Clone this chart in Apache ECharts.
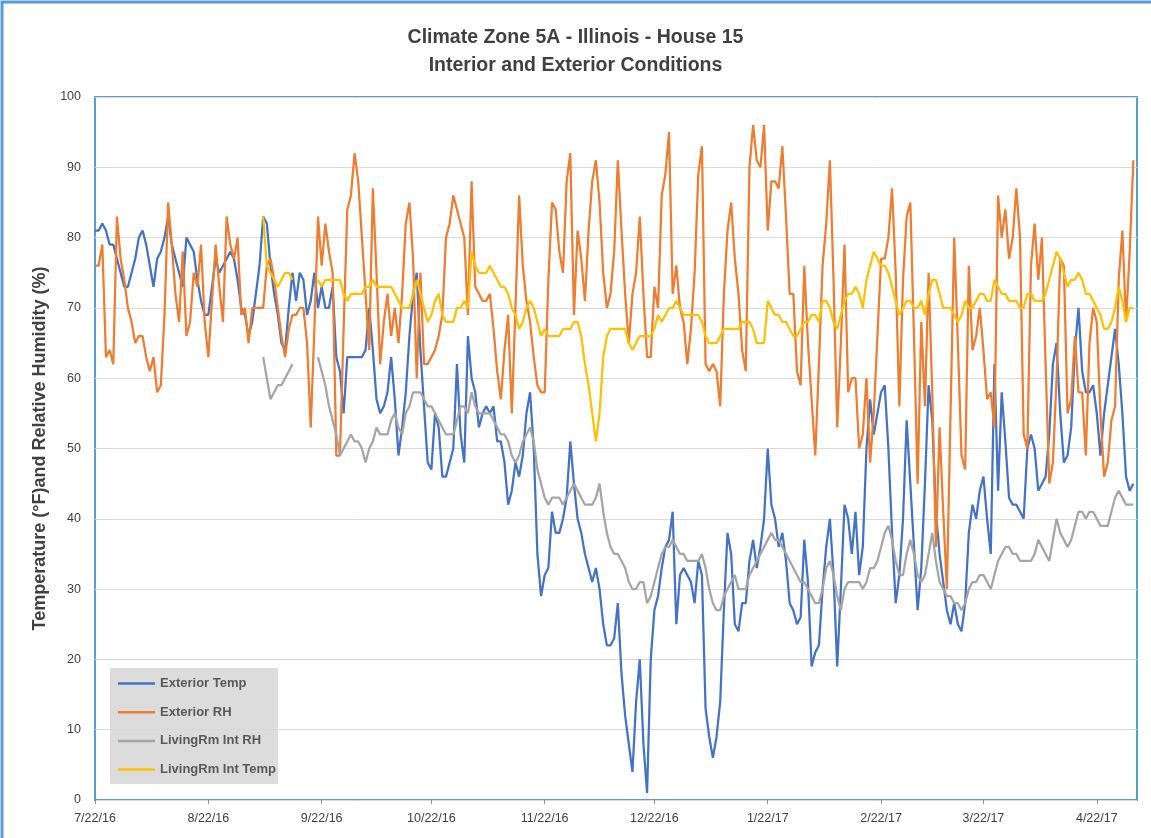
<!DOCTYPE html>
<html>
<head>
<meta charset="utf-8">
<script src="https://cdn.jsdelivr.net/npm/echarts@6/dist/echarts.min.js"></script>
<style>
  html, body { margin: 0; padding: 0; background: #ffffff; }
  #chart { width: 1151px; height: 838px; }
</style>
</head>
<body>
<div id="chart"></div>
<script>
// Daily readings starting 7/22/16 (one value per day)
const firstDay = [2016, 6, 22];
const dayCount = 286;

const exteriorTemp = [
  81,81,82,81,79,79,77,75,73,73,
  75,77,80,81,79,76,73,77,78,80,
  83,79,77,75,73,80,79,78,74,71,
  69,69,73,77,75,76,77,78,77,74,
  70,69,66,68,72,76,83,82,76,72,
  69,65,64,70,75,71,75,74,69,71,
  75,70,73,70,70,73,63,61,55,63,
  63,63,63,63,64,70,64,57,55,56,
  58,63,57,49,53,58,66,72,75,64,
  56,48,47,55,53,46,46,48,50,62,
  52,48,66,60,58,53,55,56,55,56,
  51,51,48,42,44,48,46,49,55,58,
  50,35,29,32,33,41,38,38,40,43,
  51,45,40,38,35,33,31,33,30,25,
  22,22,23,28,18,12,8,4,14,20,
  8,1,20,27,29,33,36,37,41,25,
  32,33,32,31,28,34,32,13,9,6,
  9,14,27,38,35,25,24,28,28,34,
  37,33,36,40,50,42,40,36,38,34,
  28,27,25,26,37,31,19,21,22,30,
  36,40,32,19,30,42,40,35,41,32,
  36,50,57,52,55,58,59,50,38,28,
  32,40,54,45,36,27,33,45,59,54,
  41,35,31,27,25,28,25,24,28,38,
  42,40,44,46,40,35,62,44,58,51,
  43,42,42,41,40,50,52,50,44,45,
  46,52,62,65,55,48,49,53,64,70,
  61,58,58,59,55,49,55,59,63,67,
  62,55,46,44,45
];

const exteriorRH = [
  76,76,79,63,64,62,83,77,74,70,
  68,65,66,66,63,61,63,58,59,69,
  85,79,72,68,78,66,68,75,73,79,
  68,63,71,79,73,68,83,79,77,80,
  69,70,65,70,70,70,70,76,77,74,
  70,66,63,67,69,69,70,70,65,53,
  67,83,76,82,78,75,49,49,67,84,
  86,92,88,80,72,64,87,75,62,68,
  72,66,70,65,72,82,85,77,60,75,
  62,62,63,64,66,69,80,82,86,84,
  82,80,69,88,73,72,71,71,72,67,
  61,57,64,69,55,70,86,76,71,68,
  63,59,58,58,74,85,84,78,75,88,
  92,69,81,77,71,81,88,91,85,75,
  70,72,78,91,81,72,65,72,75,83,
  72,63,63,73,70,86,89,95,72,76,
  70,68,62,67,75,89,93,62,61,62,
  61,56,72,81,85,77,72,64,61,90,
  96,91,90,96,81,88,88,87,93,83,
  72,72,61,59,76,65,57,49,62,76,
  82,91,74,53,65,79,58,60,60,50,
  52,60,48,55,66,77,77,80,87,75,
  56,74,83,85,66,45,68,56,75,58,
  36,53,41,30,55,80,65,49,47,76,
  64,66,70,64,57,58,53,86,80,84,
  77,80,87,80,52,50,76,82,74,80,
  62,45,48,60,77,76,55,57,66,58,
  58,49,65,70,68,55,46,48,54,56,
  74,81,68,78,91
];

// Interior logger readings begin on day 46 (9/6/16); null = no reading
const interiorStartDay = 46;

const livingRmRH = [
  63,60,57,58,59,59,60,61,62,
  null,null,null,null,null,null,
  63,61,59,56,54,52,49,50,51,
  52,51,51,50,48,50,51,53,52,52,
  52,54,55,53,52,55,56,58,58,58,
  57,56,56,55,54,53,52,52,52,54,
  56,56,55,58,56,55,55,55,55,54,
  53,52,52,51,49,48,49,51,52,53,
  51,47,45,43,42,43,43,43,42,43,
  44,45,44,43,42,42,42,43,45,41,
  38,36,35,35,34,33,31,30,30,31,
  31,28,29,31,33,35,36,36,37,36,
  35,35,34,34,34,34,35,33,30,28,
  27,27,29,30,31,32,30,30,30,32,
  33,34,35,36,37,38,37,37,36,35,
  34,33,32,31,31,30,29,28,28,30,
  33,34,32,29,27,30,31,31,31,31,
  30,31,33,33,34,36,38,39,37,34,
  32,32,35,37,35,32,31,32,35,38,
  34,31,30,29,29,28,28,27,28,30,
  31,31,32,32,31,30,32,34,35,36,
  36,35,35,34,34,34,34,35,37,36,
  35,34,37,40,38,37,36,37,39,41,
  41,40,41,41,40,39,39,39,41,43,
  44,43,42,42,42
];

const livingRmTemp = [
  83,76,75,74,73,74,75,75,74,
  null,null,null,null,null,null,
  74,73,74,74,74,74,74,72,71,
  72,72,72,72,73,73,74,73,73,73,
  73,73,72,71,70,70,70,72,74,72,
  70,68,69,71,72,69,68,68,68,70,
  70,71,70,78,76,75,75,75,76,75,
  74,73,73,72,70,69,67,68,70,71,
  70,68,66,67,66,66,66,66,67,67,
  67,68,68,66,62,59,55,51,55,63,
  66,67,67,67,67,67,65,64,65,66,
  66,66,66,67,69,68,69,70,70,71,
  70,69,69,69,69,69,68,66,65,65,
  65,66,67,67,67,67,67,68,68,68,
  67,65,65,65,71,70,69,69,68,68,
  67,66,66,67,68,68,69,69,68,71,
  71,70,68,67,69,71,72,72,73,72,
  70,74,76,78,77,76,76,75,73,71,
  69,70,71,71,70,70,71,69,72,74,
  74,72,70,70,70,69,68,69,71,70,
  70,71,72,72,71,71,74,73,72,72,
  71,71,71,70,70,72,72,71,71,71,
  72,74,76,78,77,75,73,74,74,75,
  74,72,72,71,70,69,67,67,68,70,
  73,71,68,70,70
];

const yTicks = { min: 0, max: 100, step: 10 };

// Date categories, labelled M/D/YY
const dates = [];
for (let i = 0; i < dayCount; i++) {
  const d = new Date(firstDay[0], firstDay[1], firstDay[2] + i);
  dates.push((d.getMonth() + 1) + '/' + d.getDate() + '/' + String(d.getFullYear()).slice(2));
}
const isMonthTick = (idx, val) => val.split('/')[1] === '22';

function fromDay(start, arr) {
  const out = [];
  for (let i = 0; i < start; i++) out.push(null);
  return out.concat(arr);
}

const chart = echarts.init(document.getElementById('chart'), null, { renderer: 'canvas' });

const textFont = '"Liberation Sans", Arial, sans-serif';

function lineSeries(name, color, data) {
  return {
    name: name,
    type: 'line',
    data: data,
    symbol: 'none',
    connectNulls: false,
    lineStyle: { color: color, width: 2.25 },
    itemStyle: { color: color },
    emphasis: { disabled: true },
    z: 3
  };
}

chart.setOption({
  backgroundColor: '#ffffff',
  animation: false,
  textStyle: { fontFamily: textFont },
  title: [
    {
      text: 'Climate Zone 5A - Illinois - House 15',
      left: 'center', top: 23,
      textStyle: { fontSize: 19.5, fontWeight: 'bold', color: '#404040', fontFamily: textFont }
    },
    {
      text: 'Interior and Exterior Conditions',
      left: 'center', top: 51,
      textStyle: { fontSize: 19.5, fontWeight: 'bold', color: '#404040', fontFamily: textFont }
    }
  ],
  graphic: [
    {
      type: 'rect',
      shape: { x: 2, y: 2, width: 1170, height: 860 },
      style: { fill: 'none', stroke: '#5B9BD5', lineWidth: 3 },
      silent: true, z: 100
    }
  ],
  legend: {
    orient: 'vertical',
    left: 110, top: 668,
    padding: [9, 2, 8, 8],
    icon: 'rect',
    itemWidth: 37, itemHeight: 2.5, itemGap: 15.7,
    backgroundColor: 'rgba(214,214,214,0.85)',
    textStyle: { fontSize: 13, fontWeight: 'bold', color: '#595959', fontFamily: textFont },
    data: ['Exterior Temp', 'Exterior RH', 'LivingRm Int RH', 'LivingRm Int Temp']
  },
  grid: {
    left: 95, right: 14, top: 97, bottom: 38,
    show: true, borderColor: '#5B9BD5', borderWidth: 2,
    backgroundColor: 'transparent',
    containLabel: false
  },
  xAxis: {
    type: 'category',
    data: dates,
    boundaryGap: false,
    axisLine: { show: false },
    axisTick: { show: true, interval: isMonthTick, length: 4, lineStyle: { color: '#8c8c8c' } },
    axisLabel: { interval: isMonthTick, color: '#404040', fontSize: 12.5, margin: 12, fontFamily: textFont },
    splitLine: { show: false }
  },
  yAxis: {
    type: 'value',
    min: yTicks.min, max: yTicks.max, interval: yTicks.step,
    name: 'Temperature (°F)and Relative Humidity (%)',
    nameLocation: 'middle', nameGap: 46, nameRotate: 90,
    nameTextStyle: { fontSize: 18, fontWeight: 'bold', color: '#404040', fontFamily: textFont },
    axisLine: { show: false },
    axisTick: { show: false },
    axisLabel: { color: '#404040', fontSize: 12.5, margin: 14, fontFamily: textFont },
    splitLine: { show: true, lineStyle: { color: '#d9d9d9', width: 1 } }
  },
  series: [
    lineSeries('Exterior Temp', '#4472C4', exteriorTemp),
    lineSeries('Exterior RH', '#ED7D31', exteriorRH),
    lineSeries('LivingRm Int RH', '#A5A5A5', fromDay(interiorStartDay, livingRmRH)),
    lineSeries('LivingRm Int Temp', '#FFC000', fromDay(interiorStartDay, livingRmTemp))
  ]
});
</script>
</body>
</html>
